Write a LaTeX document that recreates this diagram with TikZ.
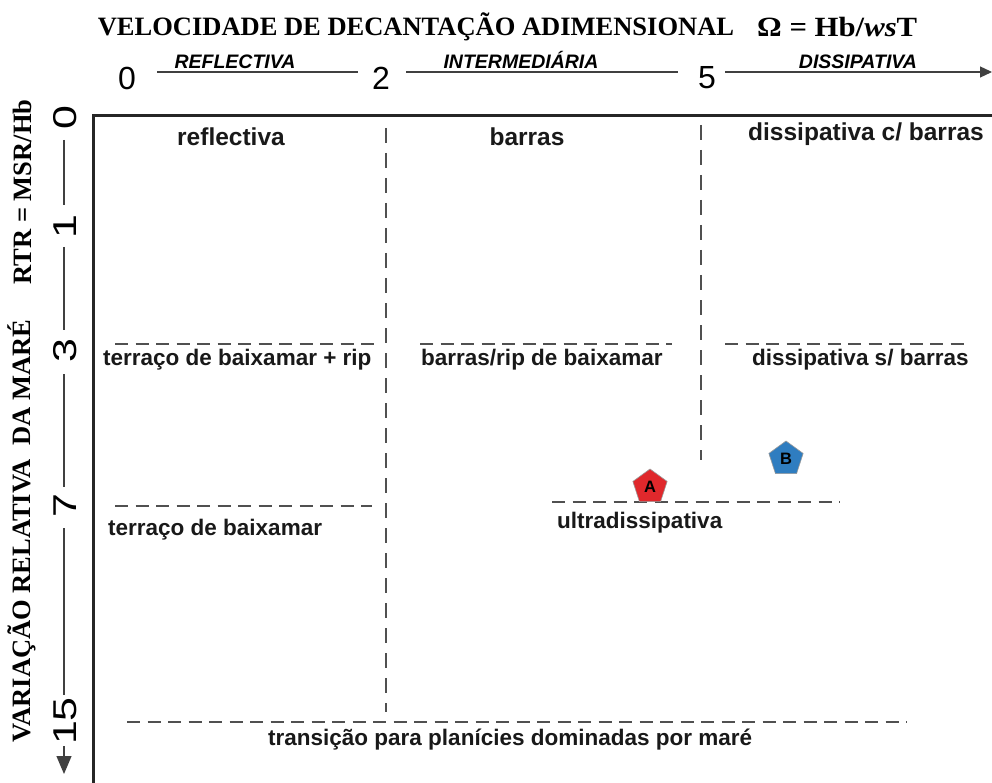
\documentclass[tikz,border=0pt]{standalone}
\usepackage{fontspec}
\setmainfont{Liberation Sans}
\newfontfamily\serifbf{Liberation Serif}
\usetikzlibrary{shapes.geometric,arrows.meta}
\definecolor{dashgray}{HTML}{505050}
\definecolor{penred}{HTML}{E0282C}
\definecolor{penblue}{HTML}{2F7DC0}
\begin{document}
\begin{tikzpicture}[x=1pt,y=-1pt,
  lbl/.style={font=\fontsize{22.5}{25}\selectfont\bfseries, inner sep=0pt, text=black!90},
  toplbl/.style={font=\fontsize{24.5}{27}\selectfont\bfseries, inner sep=0pt, text=black!90},
  num/.style={font=\fontsize{32}{34}\selectfont, inner sep=1pt},
  lnum/.style={font=\fontsize{33}{35}\selectfont, inner sep=1pt, rotate=90},
  cat/.style={font=\fontsize{19.5}{21}\selectfont\bfseries\itshape, inner sep=0pt},
  ttl/.style={font=\serifbf\fontsize{26.5}{29}\selectfont\bfseries, inner sep=0pt},
  hdash/.style={dashgray, line width=1.7pt, dash pattern=on 13pt off 7.5pt},
  vdash/.style={dashgray, line width=1.7pt, dash pattern=on 15pt off 10pt},
  axline/.style={black!75, line width=1.2pt},
  pent/.style={regular polygon, regular polygon sides=5, minimum size=36pt, draw=black!40, line width=0.6pt, inner sep=0pt, font=\fontsize{16.5}{18}\selectfont\bfseries}
]
\useasboundingbox (0,0) rectangle (992,783);
\fill[white] (0,0) rectangle (992,783);

% title
\node[ttl] (title) at (416,27) {VELOCIDADE DE DECANTAÇÃO ADIMENSIONAL};
\node[ttl, anchor=west] (omega) at (757,27) {\scalebox{1.16}[1.05]{Ω = Hb/\textit{ws}T}};

% top scale
\node[num] (t0) at (127,78) {0};
\node[num] (t2) at (381,78) {2};
\node[num] (t5) at (707,78) {5};
\coordinate (tend) at (992,72);
\draw[axline] (157,72) -- (358,72);
\draw[axline] (406,72) -- (678,72);
\draw[axline, -{Triangle[length=12pt,width=11pt]}] (725,72) -- (tend);
\node[cat, anchor=south] (c1) at (235,69) {REFLECTIVA};
\node[cat, anchor=south] (c2) at (521,69) {INTERMEDIÁRIA};
\node[cat, anchor=south] (c3) at (858,69) {DISSIPATIVA};

% frame
\draw[line width=3pt, black!85] (995,116) -- (93,116) -- (93,790);

% left axis labels
\node[ttl, rotate=90] (vlab) at (22,531) {VARIAÇÃO RELATIVA\ \ DA MARÉ};
\node[ttl, rotate=90] (rtr) at (22,192) {RTR = MSR/Hb};

% left axis numbers
\node[lnum] (l0) at (65,118) {\scalebox{1.3}[1]{0}};
\node[lnum] (l1) at (65,227) {\scalebox{1.3}[1]{1}};
\node[lnum] (l3) at (65,351) {\scalebox{1.3}[1]{3}};
\node[lnum] (l7) at (65,506) {\scalebox{1.3}[1]{7}};
\node[lnum] (l15) at (65,721) {\scalebox{1.3}[1]{15}};
\coordinate (lend) at (64,774);
\draw[axline] (64,140) -- (64,205);
\draw[axline] (64,247) -- (64,330);
\draw[axline] (64,374) -- (64,487);
\draw[axline] (64,528) -- (64,695);
\draw[axline, -{Triangle[length=18pt,width=15pt]}] (64,746) -- (lend);

% dashed separators
\draw[vdash] (386,128) -- (386,712);
\draw[vdash] (701,125) -- (701,460);
\draw[hdash] (115,344) -- (378,344);
\draw[hdash] (420,344) -- (672,344);
\draw[hdash] (725,344) -- (965,344);
\draw[hdash] (115,506) -- (372,506);
\draw[hdash] (552,502) -- (840,502);
\draw[hdash] (127,722) -- (907,722);

% region labels
\node[toplbl] (r1) at (231,137) {reflectiva};
\node[toplbl] (r2) at (527,137) {barras};
\node[toplbl, anchor=west] (r3) at (748,134) {dissipativa c/ barras};
\node[lbl, anchor=west] (r4) at (103,360) {terraço de baixamar + rip};
\node[lbl, anchor=west] (r5) at (421,360) {barras/rip de baixamar};
\node[lbl, anchor=west] (r6) at (752,360) {dissipativa s/ barras};
\node[lbl, anchor=west] (r7) at (108,530) {terraço de baixamar};
\node[lbl, anchor=west] (r8) at (557,523) {ultradissipativa};
\node[lbl, anchor=west] (r9) at (268,740) {transição para planícies dominadas por maré};

% points
\node[pent, fill=penred] (A) at (650,487) {A};
\node[pent, fill=penblue] (B) at (786,459) {B};
\end{tikzpicture}
\end{document}
